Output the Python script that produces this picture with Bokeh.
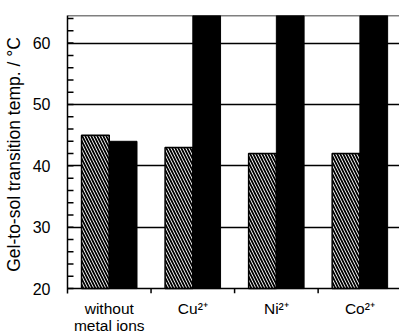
import math
from bokeh.plotting import figure
from bokeh.models import Range1d, FixedTicker, LinearAxis, Grid, Span
from bokeh.embed import file_html
from bokeh.resources import INLINE

# ---- data ----
categories = ["without\nmetal ions", "Cu\u00b2\u207a", "Ni\u00b2\u207a", "Co\u00b2\u207a"]
hatched_values = [45, 43, 42, 42]
black_values = [44, 65, 65, 65]
y_labeled_ticks = [20, 30, 40, 50, 60]
y_all_ticks = [20, 22, 24, 26, 28, 30, 32, 34, 36, 38, 40, 42, 44, 46, 48,
               50, 52, 54, 56, 58, 60, 62, 64]
grid_ticks = [30, 40, 50, 60]
group_edges = [0.5, 1.5, 2.5]
y_base = 20

idx = list(range(len(categories)))
offset = 0.166
bar_w = 0.332
x_hatched = [i - offset for i in idx]
x_black = [i + offset for i in idx]

FONT = "Liberation Sans"

# y range starts a little below 20 so the outward x ticks fit inside the frame
p = figure(width=399, height=336, output_backend="svg", toolbar_location=None,
           x_range=Range1d(-0.5, 3.474), y_range=Range1d(19.2, 64.5),
           x_axis_type=None, y_axis_type=None,
           min_border_left=64, min_border_right=0, min_border_top=15, min_border_bottom=39)
p.outline_line_color = None

# y axis (labels every 10)
yax = LinearAxis(ticker=FixedTicker(ticks=y_labeled_ticks))
yax.axis_label = "Gel-to-sol transition temp. / \u00b0C"
yax.axis_label_text_font = FONT
yax.axis_label_text_font_size = "17.5px"
yax.axis_label_text_font_style = "normal"
yax.axis_label_text_color = "black"
yax.axis_label_standoff = 6
yax.major_label_text_font = FONT
yax.major_label_text_font_size = "16px"
yax.major_label_text_color = "black"
yax.major_label_standoff = 11
yax.major_tick_line_color = None
yax.minor_tick_line_color = None
yax.axis_line_color = "black"
yax.axis_line_width = 1.5
p.add_layout(yax, "left")

# category labels at the group centres
lax = LinearAxis(ticker=FixedTicker(ticks=idx))
lax.major_label_overrides = {i: c for i, c in zip(idx, categories)}
lax.major_label_text_font = FONT
lax.major_label_text_font_size = "15.5px"
lax.major_label_text_color = "black"
lax.major_label_text_line_height = 1.0
lax.major_label_standoff = 0
lax.major_tick_line_color = None
lax.minor_tick_line_color = None
lax.axis_line_color = None
p.add_layout(lax, "below")

# grid
g = Grid(dimension=1, ticker=FixedTicker(ticks=grid_ticks))
g.grid_line_color = "black"
g.grid_line_width = 1.5
p.add_layout(g)

# bars
p.vbar(x=x_hatched, top=hatched_values, bottom=y_base, width=bar_w,
       fill_color="white", line_color="black", line_width=1.5,
       hatch_pattern="left_diagonal_line", hatch_color="black",
       hatch_scale=6, hatch_weight=1.8)
p.vbar(x=x_black, top=black_values, bottom=y_base, width=bar_w,
       fill_color="black", line_color="black", line_width=1.0)

# inward y ticks every 2 units
p.ray(x=[p.x_range.start] * len(y_all_ticks), y=y_all_ticks, length=6,
      length_units="screen", angle=0, line_color="black", line_width=1.5)
# outward x ticks at the group boundaries
p.ray(x=group_edges, y=[y_base] * len(group_edges), length=5,
      length_units="screen", angle=-math.pi / 2, line_color="black", line_width=1.5)

# x axis line and top frame line
p.add_layout(Span(location=y_base, dimension="width", line_color="black", line_width=1.5))
p.add_layout(Span(location=p.y_range.end, dimension="width",
                  line_color="black", line_width=1.5))

open("out.html", "w").write(file_html(p, INLINE))
